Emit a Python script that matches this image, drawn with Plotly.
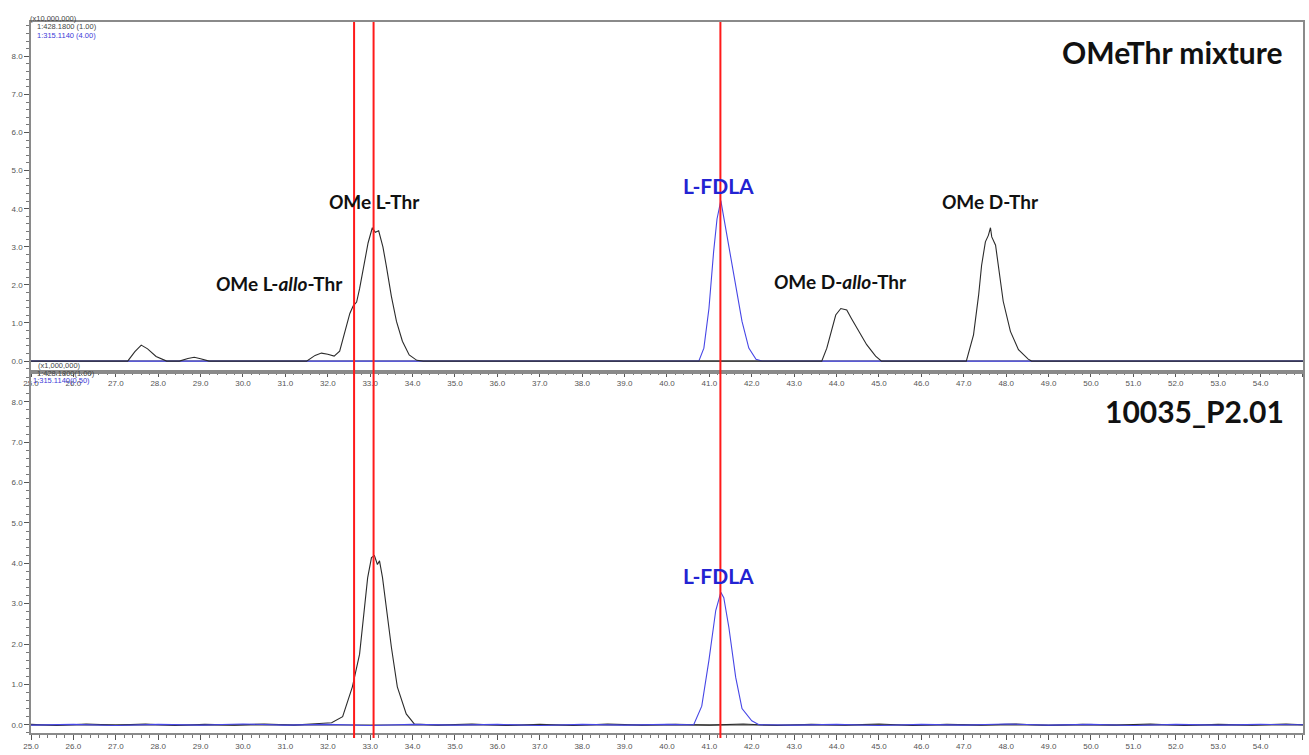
import plotly.graph_objects as go

# ---- figure geometry (pixels) ----
W, H = 1309, 755
ML, MR, MT, MB = 31, 4, 22, 18
PLOT_H = H - MT - MB

# ---- top run: OMeThr standard mixture ----
# m/z 428.18 (derivatised Thr), intensity in units of x10,000,000
top_black_t = [25.0, 25.8, 26.6, 27.28, 27.45, 27.6, 27.75, 27.95, 28.2, 28.5, 28.7,
               28.85, 29.0, 29.2, 30.3, 31.5, 31.7, 31.85, 32.0, 32.15, 32.28, 32.44,
               32.52, 32.6, 32.68, 32.75, 32.85, 32.95, 33.05, 33.12, 33.2, 33.3, 33.38,
               33.5, 33.62, 33.76, 33.92, 34.1, 34.25, 37.0, 40.5, 43.65, 43.77, 43.86,
               43.98, 44.1, 44.24, 44.35, 44.52, 44.71, 44.92, 45.06, 47.06, 47.23, 47.35,
               47.42, 47.51, 47.58, 47.63, 47.66, 47.75, 47.82, 47.93, 48.1, 48.29, 48.52,
               48.6, 52.0, 55.0]
top_black_y = [0.0, 0.0, 0.0, 0.0, 0.25, 0.42, 0.32, 0.12, 0.0, 0.0, 0.07,
               0.1, 0.06, 0.0, 0.0, 0.0, 0.15, 0.21, 0.18, 0.13, 0.26, 0.91,
               1.25, 1.45, 1.55, 1.9, 2.55, 3.1, 3.5, 3.38, 3.42, 3.0, 2.5,
               1.7, 1.04, 0.52, 0.16, 0.02, 0.0, 0.0, 0.0, 0.0, 0.34, 0.69,
               1.21, 1.38, 1.34, 1.12, 0.78, 0.43, 0.13, 0.0, 0.0, 0.69, 1.73,
               2.51, 3.13, 3.3, 3.5, 3.26, 3.04, 2.43, 1.57, 0.78, 0.3, 0.05,
               0.0, 0.0, 0.0]

# m/z 315.114 (L-FDLA reagent)
top_blue_t = [25.0, 40.75, 40.87, 40.99, 41.1, 41.18, 41.27, 41.34, 41.41, 41.53,
              41.65, 41.77, 41.93, 42.1, 42.24, 55.0]
top_blue_y = [0.0, 0.0, 0.34, 1.38, 2.87, 3.73, 4.21, 3.78, 3.3, 2.61,
              1.83, 1.04, 0.34, 0.05, 0.0, 0.0]

# ---- bottom run: sample 10035_P2.01 (x1,000,000) ----
bot_black_t = [25.0, 25.6, 26.3, 27.0, 27.7, 28.4, 29.1, 29.8, 30.5, 31.2, 31.8,
               32.09, 32.35, 32.58, 32.75, 32.86, 32.94, 33.03, 33.1, 33.17, 33.22,
               33.29, 33.38, 33.5, 33.64, 33.85, 34.04, 34.6, 35.4, 36.2, 37.0, 37.8,
               38.6, 39.4, 40.2, 41.0, 41.8, 42.6, 43.4, 44.2, 45.0, 45.8, 46.6, 47.4,
               48.2, 49.0, 49.8, 50.6, 51.4, 52.2, 53.0, 53.8, 54.6, 55.0]
bot_black_y = [0.01, -0.02, 0.02, -0.01, 0.02, -0.02, 0.01, -0.01, 0.02, -0.01, 0.03,
               0.05, 0.2, 0.94, 1.75, 2.83, 3.64, 4.14, 4.19, 3.97, 4.06,
               3.65, 2.91, 1.92, 0.94, 0.27, 0.02, -0.01, 0.02, -0.02, 0.01, -0.02,
               0.02, -0.01, 0.01, -0.01, 0.02, -0.02, 0.01, -0.01, 0.02, -0.02, 0.01, -0.01,
               0.02, -0.02, 0.01, -0.01, 0.02, -0.02, 0.01, -0.01, 0.02, 0.0]

bot_blue_t = [25.0, 26.0, 27.0, 28.0, 29.0, 30.0, 31.0, 32.0, 33.0, 34.0, 35.0, 36.0,
              37.0, 38.0, 39.0, 40.0, 40.63, 40.82, 40.99, 41.15, 41.27, 41.34, 41.46,
              41.62, 41.77, 42.0, 42.17, 43.0, 44.0, 45.0, 46.0, 47.0, 48.0, 49.0,
              50.0, 51.0, 52.0, 53.0, 54.0, 55.0]
bot_blue_y = [-0.01, 0.01, -0.02, 0.01, -0.01, 0.02, -0.01, 0.01, -0.02, 0.01, -0.01, 0.01,
              -0.02, 0.01, -0.01, 0.01, 0.0, 0.46, 1.6, 2.83, 3.28, 3.15, 2.41,
              1.18, 0.4, 0.1, 0.0, -0.01, 0.01, -0.02, 0.01, -0.01, 0.02, -0.01,
              0.01, -0.02, 0.01, -0.01, 0.01, 0.0]

# retention-time markers (min)
marker_times = [32.62, 33.08, 41.26]

x_ticks = [25 + i for i in range(31)]
y_ticks = [0, 1, 2, 3, 4, 5, 6, 7, 8]

BLACK = "#2b2b2b"
BLUE = "#4646e6"
LABEL_BLUE = "#2323d2"
AXIS = "#8a8a8a"


def py(pix):
    """Convert a pixel row (from top of page) into paper y."""
    return (H - MB - pix) / PLOT_H


def px(pix):
    """Convert a pixel column into paper x."""
    return (pix - ML) / (W - ML - MR)


fig = go.Figure()
line_w = 1.1
fig.add_trace(go.Scatter(x=top_blue_t, y=top_blue_y, mode="lines",
                         line=dict(color=BLUE, width=line_w), xaxis="x", yaxis="y"))
fig.add_trace(go.Scatter(x=top_black_t, y=top_black_y, mode="lines",
                         line=dict(color=BLACK, width=line_w), xaxis="x", yaxis="y"))
fig.add_trace(go.Scatter(x=bot_black_t, y=bot_black_y, mode="lines",
                         line=dict(color=BLACK, width=line_w), xaxis="x2", yaxis="y2"))
fig.add_trace(go.Scatter(x=bot_blue_t, y=bot_blue_y, mode="lines",
                         line=dict(color=BLUE, width=line_w), xaxis="x2", yaxis="y2"))

tickfont = dict(family="Liberation Sans, Arial", size=8, color="#555555")
xcommon = dict(range=[25, 55.001], tickvals=x_ticks, ticktext=[f"{v:.1f}" for v in x_ticks],
               ticks="outside", ticklen=5, tickcolor="#555555", tickwidth=1,
               minor=dict(dtick=0.2, ticks="outside", ticklen=3, tickcolor="#777777"),
               showline=True, linecolor=AXIS, linewidth=1.5, mirror=True,
               showgrid=False, zeroline=False, tickfont=tickfont)
ycommon = dict(tickvals=y_ticks, ticktext=[f"{v:.1f}" for v in y_ticks],
               ticks="outside", ticklen=5, tickcolor="#555555", tickwidth=1,
               minor=dict(dtick=0.2, ticks="outside", ticklen=3, tickcolor="#777777"),
               showline=True, linecolor=AXIS, linewidth=1.5, mirror=True,
               showgrid=False, zeroline=True, zerolinecolor="#9a9a9a", zerolinewidth=1.5,
               tickfont=tickfont)

top_dom = [py(372), 1.0]
bot_dom = [0.0, py(376)]

fig.update_layout(
    width=W, height=H, margin=dict(l=ML, r=MR, t=MT, b=MB),
    paper_bgcolor="white", plot_bgcolor="white", showlegend=False,
    xaxis=dict(anchor="y", **xcommon),
    xaxis2=dict(anchor="y2", matches="x", **xcommon),
    yaxis=dict(domain=top_dom, range=[-0.235, 8.9], anchor="x", **ycommon),
    yaxis2=dict(domain=bot_dom, range=[-0.204, 8.69], anchor="x2", **ycommon),
)

for t in marker_times:
    fig.add_shape(type="line", xref="x", yref="paper", x0=t, x1=t,
                  y0=py(742), y1=1.0, line=dict(color="#ff1a1a", width=2))

FAMILY = "Lato, Open Sans, sans-serif"
title_font = dict(family=FAMILY, size=30, color="#111111")
peak_font = dict(family=FAMILY, size=19, color="#111111")
fdla_font = dict(family=FAMILY, size=21, color=LABEL_BLUE)

notes = [
    dict(text="<b>OMeThr mixture</b>", x=54.57, y=8.12, xref="x", yref="y",
         xanchor="right", font=title_font),
    dict(text="<b>10035_P2.01</b>", x=54.6, y=7.78, xref="x2", yref="y2",
         xanchor="right", font=title_font),
    dict(text="<b><i>O</i>Me L-Thr</b>", x=33.1, y=4.18, xref="x", yref="y", font=peak_font),
    dict(text="<b><i>O</i>Me L-<i>allo</i>-Thr</b>", x=30.86, y=2.04, xref="x", yref="y",
         font=peak_font),
    dict(text="<b>L-FDLA</b>", x=41.22, y=4.6, xref="x", yref="y", font=fdla_font),
    dict(text="<b><i>O</i>Me D-<i>allo</i>-Thr</b>", x=44.1, y=2.09, xref="x", yref="y",
         font=peak_font),
    dict(text="<b><i>O</i>Me D-Thr</b>", x=47.63, y=4.2, xref="x", yref="y", font=peak_font),
    dict(text="<b>L-FDLA</b>", x=41.22, y=3.71, xref="x2", yref="y2", font=fdla_font),
]

small = dict(family="Liberation Sans, Arial", size=7.5, color="#444444")
small_blue = dict(family="Liberation Sans, Arial", size=7.5, color="#3a3ad8")
headers = [
    ("(x10,000,000)", 28, 18, small),
    ("1:428.1800 (1.00)", 35, 27, small),
    ("1:315.1140 (4.00)", 35, 36, small_blue),
    ("(x1,000,000)", 36, 367, small),
    ("1:428.1800(1.00)", 35, 375, small),
    ("1:315.1140(0.50)", 31, 383, small_blue),
]
for txt, xp, yp, f in headers:
    notes.append(dict(text=txt, x=px(xp), y=py(yp), xref="paper", yref="paper",
                      xanchor="left", yanchor="middle", font=f))

for n in notes:
    n.setdefault("showarrow", False)
    fig.add_annotation(**n)

fig.write_html("out.html")
